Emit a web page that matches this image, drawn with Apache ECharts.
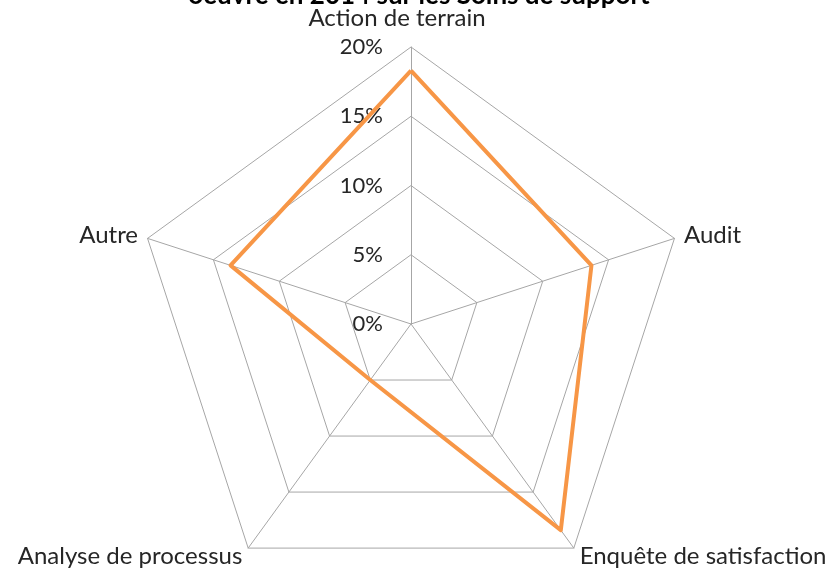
<!DOCTYPE html>
<html>
<head>
<meta charset="utf-8">
<script src="https://cdn.jsdelivr.net/npm/echarts@6/dist/echarts.min.js"></script>
<style>
  html, body { margin: 0; padding: 0; background: #fff; }
  #chart { width: 838px; height: 573px; }
</style>
</head>
<body>
<div id="chart"></div>
<script>
// axes, read clockwise from the top
const categories = ["Action de terrain", "Audit", "Enquête de satisfaction", "Analyse de processus", "Autre"];
const values = [0.183, 0.137, 0.184, 0.05, 0.137];
const tickValues = [0, 0.05, 0.1, 0.15, 0.2];
const titleText = "oeuvre en 2014 sur les Soins de support";

const font = "Lato, 'Open Sans', sans-serif";
const center = [411, 324];
const radius = 277;

// echarts places radar indicators counter-clockwise, so flip the order after the first one
const order = [0, 4, 3, 2, 1];

const chart = echarts.init(document.getElementById("chart"));
chart.setOption({
  animation: false,
  title: {
    text: titleText,
    left: "center",
    top: -22,
    textStyle: { fontFamily: font, fontSize: 26, fontWeight: "bold", color: "#000" }
  },
  radar: {
    center: center,
    radius: radius,
    shape: "polygon",
    splitNumber: 4,
    startAngle: 90,
    indicator: order.map((i) => ({ name: categories[i], min: 0, max: 0.2 })),
    axisName: {
      color: "#262626",
      fontFamily: font,
      fontSize: 24,
      formatter: (name) => (name === categories[0] ? "{top|" + name + "}" : name),
      rich: {
        top: { fontFamily: font, fontSize: 24, color: "#262626", padding: [0, 28, 7, 0] }
      }
    },
    nameGap: 10,
    axisLine: { lineStyle: { color: "#a6a6a6", width: 1 } },
    splitLine: { lineStyle: { color: "#a6a6a6", width: 1 } },
    splitArea: { show: false },
    axisTick: { show: false },
    axisLabel: { show: false }
  },
  // only used to print the % ticks along the top axis
  polar: { center: center, radius: radius },
  angleAxis: { show: false, startAngle: 90, min: 0, max: 360 },
  radiusAxis: {
    min: tickValues[0],
    max: tickValues[tickValues.length - 1],
    interval: tickValues[1] - tickValues[0],
    axisLine: { show: false },
    axisTick: { show: false },
    splitLine: { show: false },
    axisLabel: {
      margin: 28,
      color: "#262626",
      fontFamily: font,
      fontSize: 22,
      formatter: (v) => Math.round(v * 100) + "%"
    }
  },
  series: [
    {
      type: "radar",
      symbol: "none",
      lineStyle: { color: "#f79646", width: 4 },
      data: [{ value: order.map((i) => values[i]) }]
    }
  ]
});
</script>
</body>
</html>
